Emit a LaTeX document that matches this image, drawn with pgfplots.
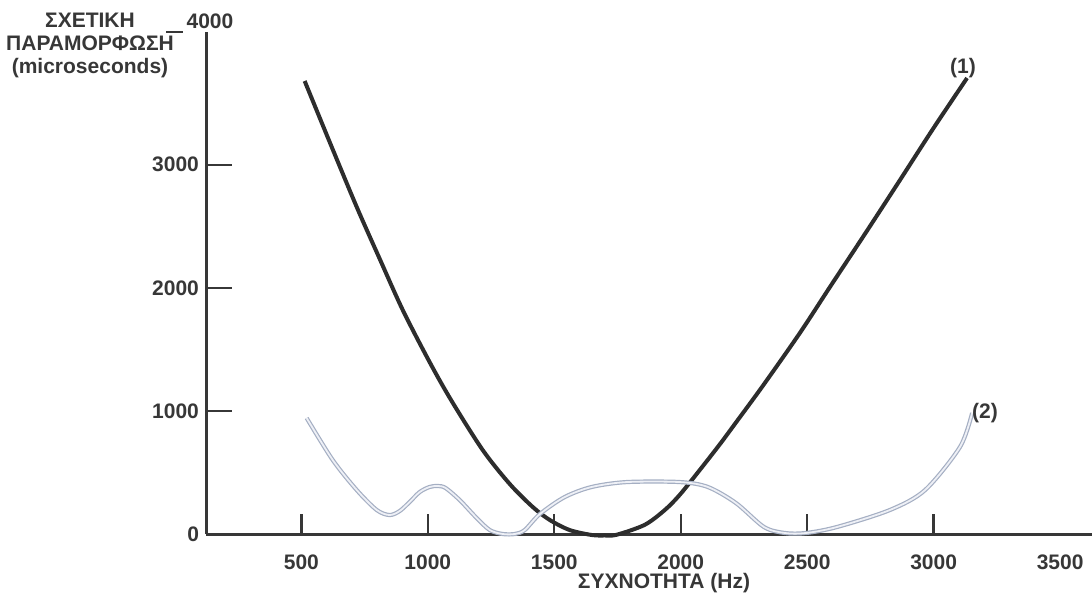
\documentclass[border=0pt]{standalone}
\usepackage{pgfplots}
\pgfplotsset{compat=1.18}
\usepackage{fontspec}
\setmainfont{Liberation Sans}
\definecolor{axgray}{RGB}{55,55,55}
\definecolor{curveone}{RGB}{45,45,45}
\definecolor{curvetwo}{RGB}{165,175,195}
\definecolor{curvetwoin}{RGB}{238,240,246}
\newcommand{\lbl}{\fontsize{10.5}{11.5}\selectfont\bfseries}
\begin{document}
\begin{tikzpicture}
\path[use as bounding box] (0,0) rectangle (546pt,300pt);
\begin{axis}[
  at={(103pt,33pt)}, anchor=south west,
  scale only axis, width=443pt, height=251pt,
  xmin=123, xmax=3626, ymin=0, ymax=4078,
  clip=false,
  axis lines*=left,
  axis line style={line width=1.5pt, color=axgray},
  tick align=inside,
  xtick={500,1000,1500,2000,2500,3000},
  extra x ticks={3500},
  extra x tick style={xtick style={draw=none}},
  ytick={0,1000,2000,3000},
  xtick style={line width=1.2pt, color=axgray, /pgfplots/major tick length=10pt},
  ytick style={line width=1pt, color=axgray, /pgfplots/major tick length=13pt},
  /pgf/number format/1000 sep={},
  /pgf/number format/assume math mode=true,
  scaled ticks=false,
  tick label style={font=\lbl, text=axgray},
  xticklabel style={yshift=-7pt},
]
% curve (1)
\addplot[curveone, line width=2pt, smooth, tension=0.5] coordinates {
(513,3680) (612,3184) (719,2656) (810,2234) (901,1819) (1007,1397)
(1094,1081) (1217,682) (1324,406) (1415,219) (1482,114) (1561,32)
(1648,-8) (1700,-12) (1747,-6) (1858,75) (1937,195) (1996,318)
(2076,522) (2155,730) (2218,905) (2325,1205) (2471,1633) (2590,2007)
(2736,2462) (2867,2876) (2997,3290) (3132,3704)
};
% curve (2)
\addplot[curvetwo, line width=0.6pt, double=curvetwoin, double distance=0.9pt, smooth, tension=0.5] coordinates {
(521,942) (624,601) (719,357) (798,195) (849,154) (889,187)
(928,260) (968,341) (1007,382) (1039,390) (1070,374) (1126,276)
(1193,130) (1245,32) (1296,0) (1344,0) (1383,32) (1443,162)
(1541,300) (1648,382) (1787,422) (1996,422) (2107,382) (2218,252)
(2329,57) (2412,8) (2495,8) (2618,57) (2827,195) (2966,357)
(3104,707) (3152,983)
};
\end{axis}
\node[font=\lbl, text=axgray, align=center, anchor=north, inner sep=0pt] at (45pt,293.5pt)
  {ΣΧΕΤΙΚΗ\\ΠΑΡΑΜΟΡΦΩΣΗ\\(microseconds)};
\node[font=\lbl, text=axgray] at (105pt,289.5pt) {4000};
\draw[axgray, line width=0.7pt] (83pt,284pt) -- (91.5pt,284pt);
\node[font=\lbl, text=axgray, anchor=base] at (332pt,6pt) {ΣΥΧΝΟΤΗΤΑ (Hz)};
\node[font=\lbl, text=axgray] at (481.5pt,266pt) {(1)};
\node[font=\lbl, text=axgray] at (492.5pt,93.5pt) {(2)};
\end{tikzpicture}
\end{document}
